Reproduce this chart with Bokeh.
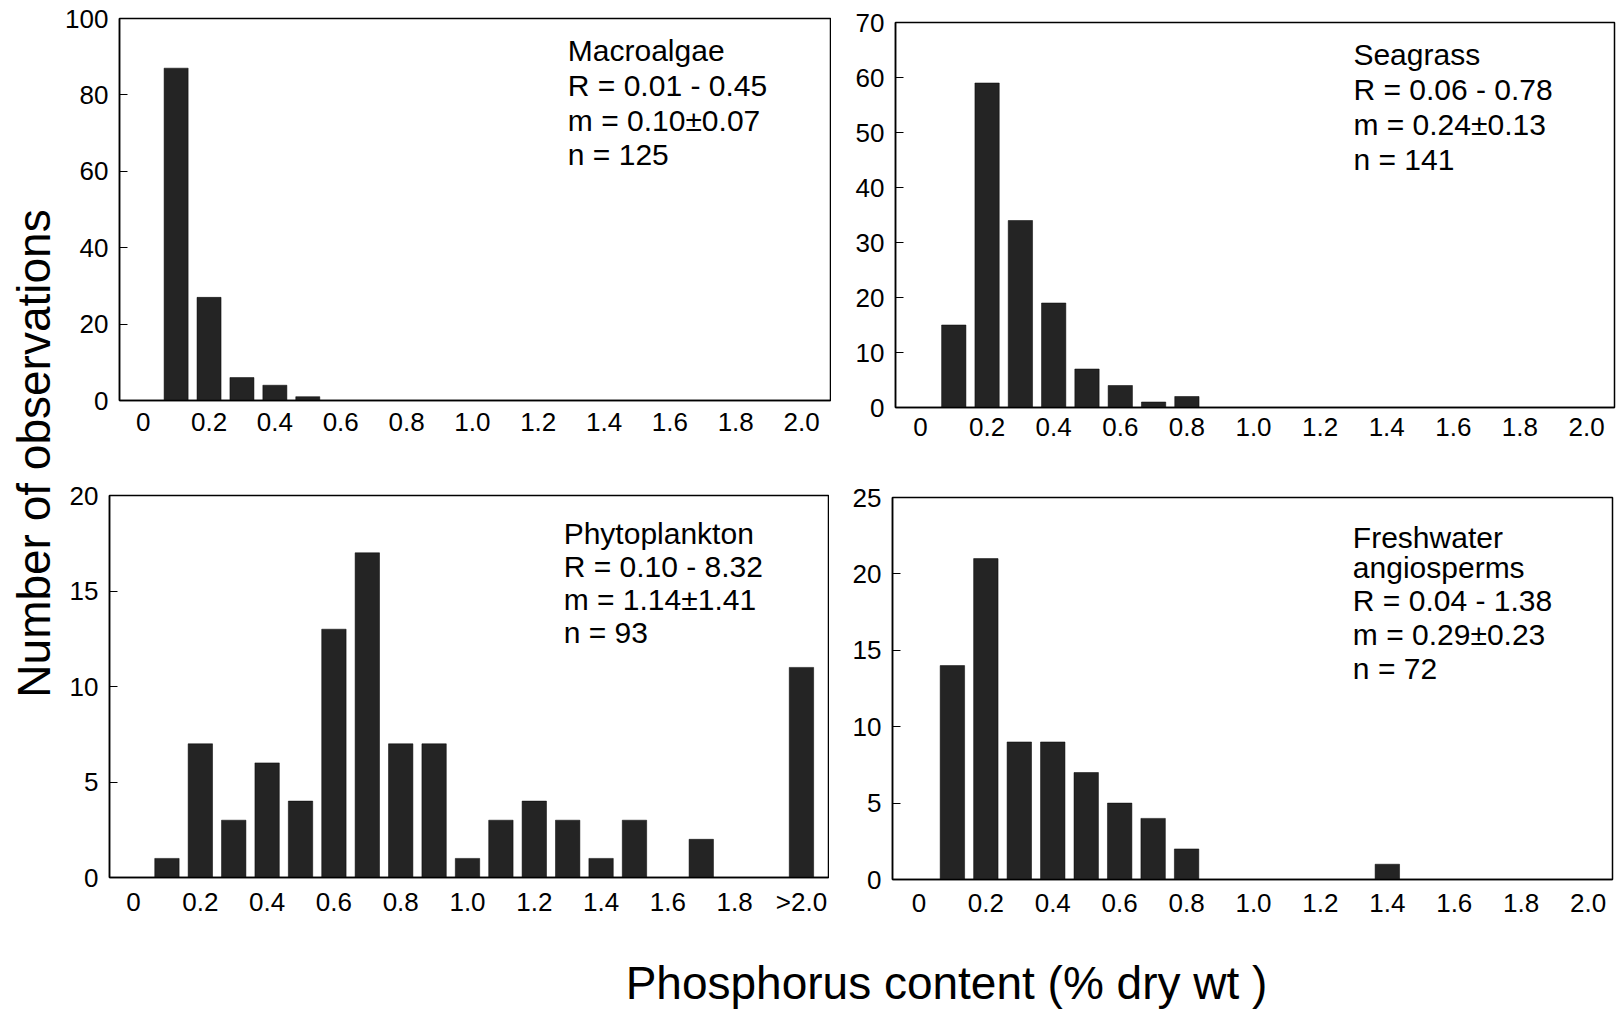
import math
from bokeh.plotting import figure
from bokeh.models import Range1d, FixedTicker, Label, NumeralTickFormatter, Spacer
from bokeh.layouts import row, column
from bokeh.embed import file_html
from bokeh.resources import INLINE

# ---------------- data ----------------
x_ticks = [0, 0.2, 0.4, 0.6, 0.8, 1.0, 1.2, 1.4, 1.6, 1.8, 2.0]
x_tick_labels = ["0", "0.2", "0.4", "0.6", "0.8", "1.0", "1.2", "1.4", "1.6", "1.8", "2.0"]
x_tick_labels_phyto = ["0", "0.2", "0.4", "0.6", "0.8", "1.0", "1.2", "1.4", "1.6", "1.8", ">2.0"]

macro_bins = [0.1, 0.2, 0.3, 0.4, 0.5]
macro_counts = [87, 27, 6, 4, 1]

sea_bins = [0.1, 0.2, 0.3, 0.4, 0.5, 0.6, 0.7, 0.8]
sea_counts = [15, 59, 34, 19, 7, 4, 1, 2]

phyto_bins = [0.1, 0.2, 0.3, 0.4, 0.5, 0.6, 0.7, 0.8, 0.9, 1.0, 1.1, 1.2, 1.3, 1.4, 1.5, 1.7, 2.0]
phyto_counts = [1, 7, 3, 6, 4, 13, 17, 7, 7, 1, 3, 4, 3, 1, 3, 2, 11]

fresh_bins = [0.1, 0.2, 0.3, 0.4, 0.5, 0.6, 0.7, 0.8, 1.4]
fresh_counts = [14, 21, 9, 9, 7, 5, 4, 2, 1]

macro_text = ["Macroalgae", "R = 0.01 - 0.45", "m = 0.10\u00b10.07", "n = 125"]
sea_text = ["Seagrass", "R = 0.06 - 0.78", "m = 0.24\u00b10.13", "n = 141"]
phyto_text = ["Phytoplankton", "R = 0.10 - 8.32", "m = 1.14\u00b11.41", "n = 93"]
fresh_text = ["Freshwater", "angiosperms", "R = 0.04 - 1.38", "m = 0.29\u00b10.23", "n = 72"]

y_title = "Number of observations"
x_title = "Phosphorus content (% dry wt )"

FONT = "Liberation Sans"
BAR = "#242424"


def panel(bins, counts, ymax, ystep, xr, fw, fh, mb, lines, lx, loffs, labels, xstand):
    l, r, t, b = mb
    p = figure(frame_width=fw, frame_height=fh, min_border_left=l, min_border_right=r,
               min_border_top=t, min_border_bottom=b,
               x_range=Range1d(*xr), y_range=Range1d(0, ymax),
               output_backend="svg", toolbar_location=None, tools="")
    p.vbar(x=bins, top=counts, width=0.073, bottom=0,
           fill_color=BAR, line_color="#000000", line_width=0.5)
    p.grid.visible = False
    p.outline_line_color = "black"
    p.outline_line_width = 1.5
    p.background_fill_color = "white"
    p.border_fill_color = "white"

    xa = p.xaxis[0]
    xa.ticker = FixedTicker(ticks=x_ticks)
    xa.formatter = NumeralTickFormatter(format="0.0")
    xa.major_label_overrides = {k: v for k, v in zip(x_ticks, labels)}
    xa.major_tick_in = 0
    xa.major_tick_out = 0
    xa.minor_tick_in = 0
    xa.minor_tick_out = 0
    xa.axis_line_width = 1.5
    xa.major_label_standoff = xstand

    ya = p.yaxis[0]
    ya.ticker = FixedTicker(ticks=list(range(0, ymax + 1, ystep)))
    ya.major_tick_in = 8
    ya.major_tick_out = 0
    ya.minor_tick_in = 0
    ya.minor_tick_out = 0
    ya.axis_line_width = 1.5
    ya.major_label_standoff = 11

    for ax in (xa, ya):
        ax.major_label_text_font = FONT
        ax.major_label_text_font_size = "26px"
        ax.major_label_text_color = "black"
        ax.axis_line_color = "black"
        ax.major_tick_line_color = "black"

    for txt, off in zip(lines, loffs):
        p.add_layout(Label(x=lx, y=ymax, y_offset=-off, text=txt,
                           text_font=FONT, text_font_size="30px", text_color="black",
                           text_align="left", text_baseline="middle"))
    return p


p1 = panel(macro_bins, macro_counts, 100, 20, (-0.072, 2.088), 711, 382,
           (57, 1, 18, 50), macro_text, 1.29, [32, 67, 101.5, 135.5], x_tick_labels, 12)
p2 = panel(sea_bins, sea_counts, 70, 10, (-0.075, 2.084), 719, 385,
           (64, 4, 18, 43), sea_text, 1.30, [32, 67, 102, 136.5], x_tick_labels, 10)
p3 = panel(phyto_bins, phyto_counts, 20, 5, (-0.072, 2.081), 719, 382,
           (47, 1, 45, 53), phyto_text, 1.288, [38, 71, 104, 137], x_tick_labels_phyto, 9)
p4 = panel(fresh_bins, fresh_counts, 25, 5, (-0.079, 2.073), 720, 382,
           (63, 4, 45, 51), fresh_text, 1.297, [39.5, 69.5, 102.5, 136.5, 170.5], x_tick_labels, 14)


def blank(w, h):
    f = figure(frame_width=w, frame_height=h, min_border=0,
               x_range=Range1d(0, w), y_range=Range1d(0, h),
               x_axis_location=None, y_axis_location=None,
               output_backend="svg", toolbar_location=None, tools="")
    f.grid.visible = False
    f.outline_line_color = None
    f.background_fill_color = "white"
    f.border_fill_color = "white"
    return f


yt = blank(62, 930)
yt.add_layout(Label(x=33.3, y=477, text=y_title, angle=math.pi / 2,
                    text_font=FONT, text_font_size="46px", text_color="black",
                    text_align="center", text_baseline="middle"))

xt = blank(1618, 80)
xt.add_layout(Label(x=946, y=28, text=x_title,
                    text_font=FONT, text_font_size="46px", text_color="black",
                    text_align="center", text_baseline="middle"))

top_row = row(p1, column(Spacer(width=787, height=4), p2))
bottom_row = row(p3, column(Spacer(width=787, height=2), p4))
layout = column(row(yt, column(top_row, bottom_row)), xt)

open("out.html", "w").write(file_html(layout, INLINE))
